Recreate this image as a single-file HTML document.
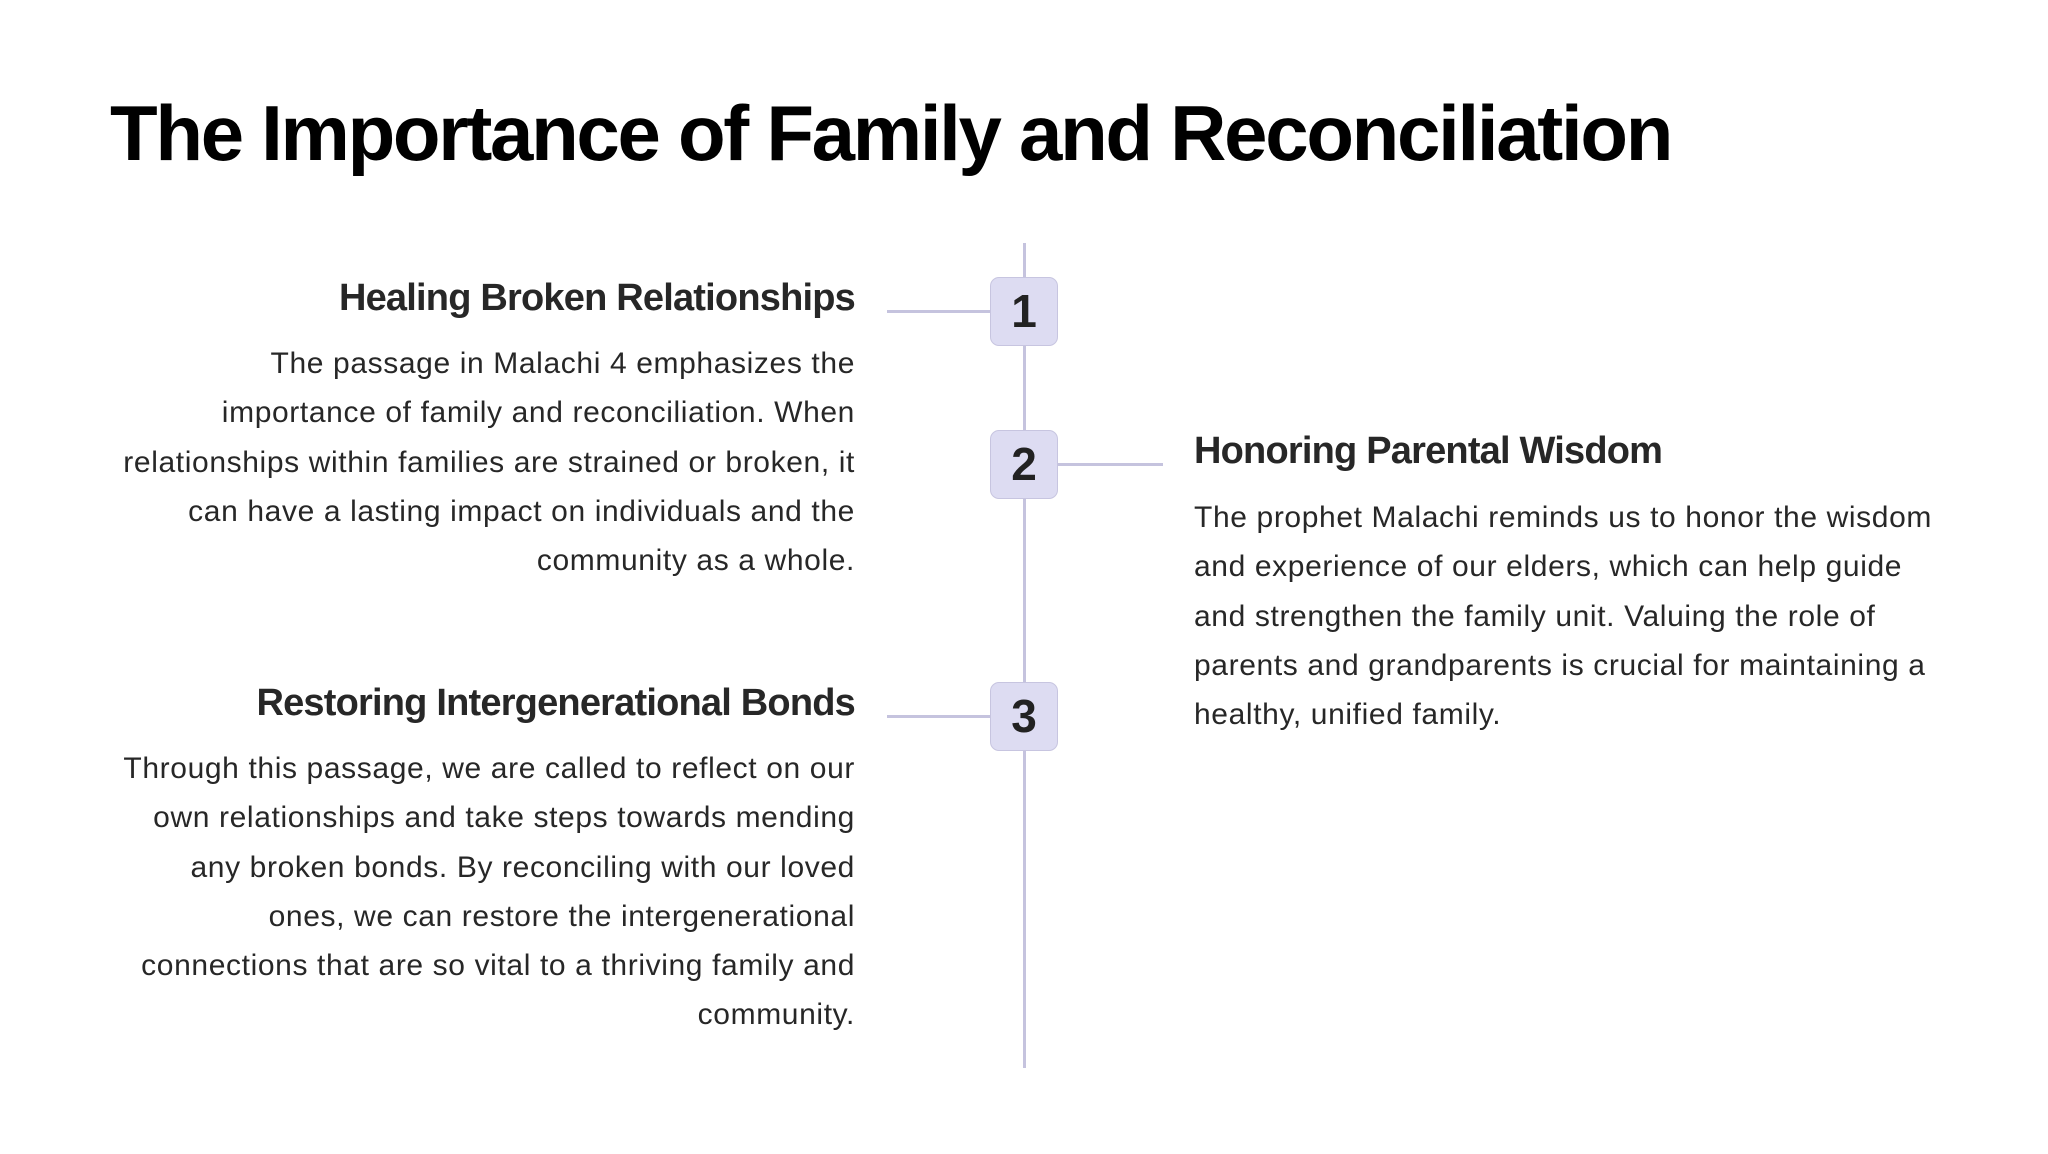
<!DOCTYPE html>
<html><head><meta charset="utf-8"><style>
html,body{margin:0;padding:0;background:#fff;}
body{width:2048px;height:1154px;position:relative;overflow:hidden;font-family:"Liberation Sans",Arial,sans-serif;color:#272727;}
.t{position:absolute;left:110px;top:83px;font-size:78px;font-weight:bold;color:#000;letter-spacing:-2.3px;white-space:nowrap;line-height:100px;}
.h{position:absolute;font-size:38px;font-weight:bold;line-height:50px;white-space:nowrap;letter-spacing:-0.8px;}
.b{position:absolute;font-size:30px;letter-spacing:0.62px;line-height:49.3px;white-space:nowrap;}
.r{text-align:right;}
.ln{position:absolute;background:#c5c3de;}
.box{position:absolute;left:990px;width:66px;height:67px;background:#dddcf2;border:1.5px solid #c7c5e0;border-radius:9px;font-weight:bold;font-size:46px;line-height:67px;text-align:center;color:#222;}
</style></head><body>
<div class="t">The Importance of Family and Reconciliation</div>

<div class="ln" style="left:1023px;top:243px;width:3px;height:825px;"></div>
<div class="ln" style="left:887px;top:310px;width:103px;height:3px;"></div>
<div class="ln" style="left:887px;top:715px;width:103px;height:3px;"></div>
<div class="ln" style="left:1058px;top:463px;width:105px;height:3px;"></div>
<div class="box" style="top:277px;">1</div>
<div class="box" style="top:430px;">2</div>
<div class="box" style="top:682px;">3</div>

<div class="h r" style="right:1193px;top:273px;">Healing Broken Relationships</div>
<div class="b r" style="right:1193px;top:339px;">The passage in Malachi 4 emphasizes the<br>importance of family and reconciliation. When<br>relationships within families are strained or broken, it<br>can have a lasting impact on individuals and the<br>community as a whole.</div>

<div class="h" style="left:1194px;top:426px;">Honoring Parental Wisdom</div>
<div class="b" style="left:1194px;top:493px;">The prophet Malachi reminds us to honor the wisdom<br>and experience of our elders, which can help guide<br>and strengthen the family unit. Valuing the role of<br>parents and grandparents is crucial for maintaining a<br>healthy, unified family.</div>

<div class="h r" style="right:1193px;top:678px;">Restoring Intergenerational Bonds</div>
<div class="b r" style="right:1193px;top:744px;">Through this passage, we are called to reflect on our<br>own relationships and take steps towards mending<br>any broken bonds. By reconciling with our loved<br>ones, we can restore the intergenerational<br>connections that are so vital to a thriving family and<br>community.</div>
</body></html>
